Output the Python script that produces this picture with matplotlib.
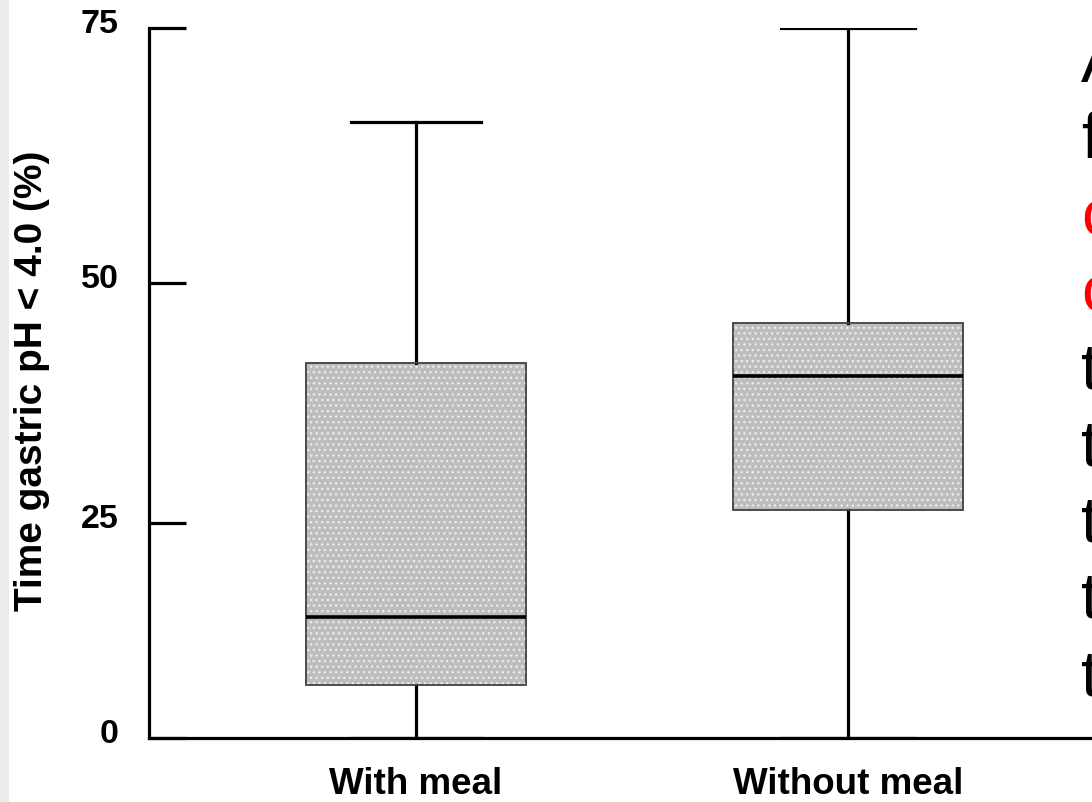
import matplotlib
matplotlib.use('Agg')
import matplotlib.pyplot as plt
import matplotlib.transforms as mtransforms
from matplotlib.patches import PathPatch, Rectangle
import numpy as np

plt.rcParams['font.family'] = ['Liberation Sans', 'DejaVu Sans']
plt.rcParams['hatch.linewidth'] = 1.0

# Datos
grupos = ['With meal', 'Without meal']
minimos = [0.0, 0.0]
cuartil1 = [6.2, 26.4]
medianas = [14.1, 40.3]
cuartil3 = [41.7, 45.8]
maximos = [65.8, 75.0]

ticks_y = [0, 25, 50, 75]
# la escala vertical del original no es lineal (pixeles entre marcas)
pos_ticks = [0, 215, 455, 710]

letras = ['A', 'f', 'c', 'c', 't', 't', 't', 't', 't']
colores_letras = ['black', 'black', 'red', 'red', 'black', 'black', 'black', 'black', 'black']
base_letras = [82, 158, 235, 312, 388, 465, 542, 618, 695]


def adelante(v):
    v = np.asarray(v, dtype=float)
    out = np.interp(v, ticks_y, pos_ticks)
    out = np.where(v < 0, v * 215 / 25, out)
    out = np.where(v > 75, 710 + (v - 75) * 255 / 25, out)
    return out


def inversa(p):
    p = np.asarray(p, dtype=float)
    out = np.interp(p, pos_ticks, ticks_y)
    out = np.where(p < 0, p * 25 / 215, out)
    out = np.where(p > 710, 75 + (p - 710) * 25 / 255, out)
    return out


W, H = 1092, 802
fig = plt.figure(figsize=(W / 100, H / 100), dpi=100)
fig.patch.set_facecolor('white')

# franja gris a la izquierda
fig.patches.append(Rectangle((0, 0), 9 / W, 1, transform=fig.transFigure,
                             facecolor='#ebebeb', edgecolor='none', zorder=0))

ax = fig.add_axes([149 / W, 64 / H, 1 - 149 / W, 710 / H])
ax.set_yscale('function', functions=(adelante, inversa))

stats = []
for i in range(len(grupos)):
    stats.append({'med': medianas[i], 'q1': cuartil1[i], 'q3': cuartil3[i],
                  'whislo': minimos[i], 'whishi': maximos[i], 'fliers': []})

bp = ax.bxp(stats, positions=[1, 2], widths=[0.507, 0.532], capwidths=[0.30, 0.31],
            patch_artist=True, showfliers=False,
            boxprops=dict(facecolor='#bdbdbd', edgecolor='#4a4a4a', linewidth=1.2),
            whiskerprops=dict(color='black', linewidth=2.3),
            capprops=dict(color='black', linewidth=2.3),
            medianprops=dict(color='black', linewidth=2.6))

# patron de puntos claros dentro de las cajas
for caja in bp['boxes']:
    puntos = PathPatch(caja.get_path(), transform=caja.get_transform(),
                       facecolor='none', edgecolor='#ececec', hatch='...',
                       linewidth=0, zorder=caja.get_zorder() + 0.1)
    ax.add_patch(puntos)
    borde = PathPatch(caja.get_path(), transform=caja.get_transform(),
                      facecolor='none', edgecolor='#4a4a4a', linewidth=1.2,
                      zorder=caja.get_zorder() + 0.2)
    ax.add_patch(borde)
for m in bp['medians']:
    m.set_zorder(5)

ax.set_ylim(0, 75)
ax.set_xlim(1 - 267 / 432, 2 + 244 / 432)
ax.set_yticks(ticks_y)
ax.set_yticklabels([str(t) for t in ticks_y], fontsize=24.5, fontweight='bold')
ax.set_xticks([1, 2])
ax.set_xticklabels(grupos, fontsize=26.5, fontweight='bold')
ax.tick_params(axis='y', direction='in', length=26.6, width=2.3, pad=22)
ax.tick_params(axis='x', length=0, pad=21)

desplazar = mtransforms.ScaledTranslation(0, 0.07, fig.dpi_scale_trans)
for lbl in ax.get_yticklabels():
    lbl.set_transform(lbl.get_transform() + desplazar)

ax.spines['top'].set_visible(False)
ax.spines['right'].set_visible(False)
ax.spines['left'].set_linewidth(2.3)
ax.spines['bottom'].set_linewidth(2.3)

fig.text(32 / W, 1 - 381 / H, 'Time gastric pH < 4.0 (%)', rotation=90,
         ha='center', va='center', fontsize=28, fontweight='bold')

# texto recortado a la derecha
for letra, color, base in zip(letras, colores_letras, base_letras):
    fig.text(1081 / W, 1 - base / H, letra, color=color, fontsize=47,
             ha='left', va='baseline')

fig.savefig('out.png', dpi=100)
